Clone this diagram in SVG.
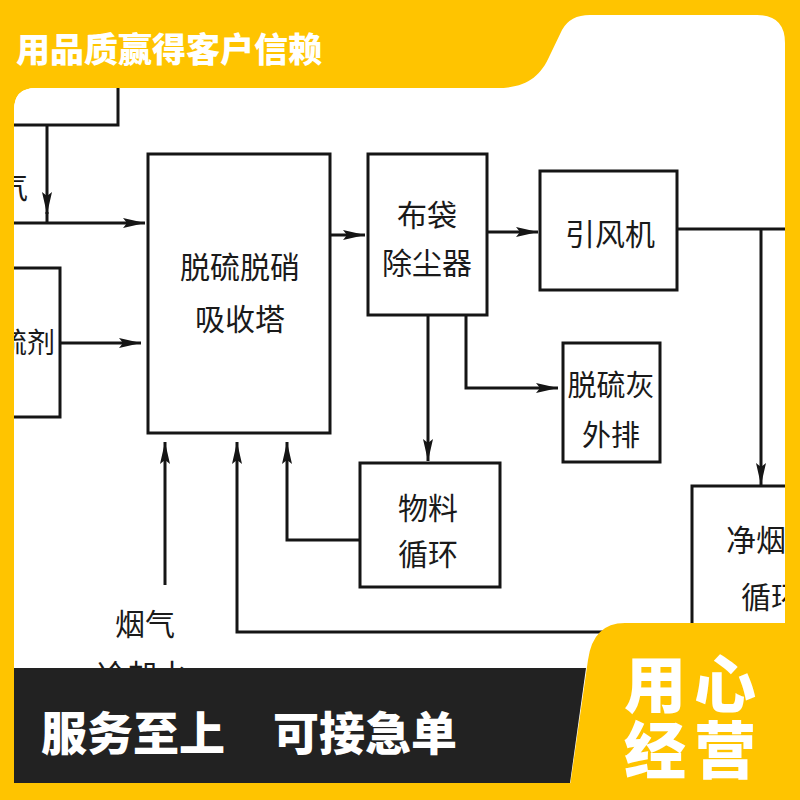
<svg xmlns="http://www.w3.org/2000/svg" width="800" height="800" viewBox="0 0 800 800">
<defs>
<style>
.box{fill:#fff;stroke:#151515;stroke-width:3}
.ln{fill:none;stroke:#151515;stroke-width:3}
.t{font-family:"Noto Sans CJK SC","Noto Sans",sans-serif;font-size:30px;fill:#1a1a1a;text-anchor:middle}
.hw{font-family:"Noto Sans CJK SC","Noto Sans",sans-serif;font-weight:900;fill:#fff}
</style>
<marker id="ah" viewBox="0 0 22 10" refX="22" refY="5" markerWidth="22" markerHeight="10" markerUnits="userSpaceOnUse" orient="auto">
<path d="M0,0 L22,5 L0,10 L4,5 Z" fill="#151515"/>
</marker>
<clipPath id="wc">
<path d="M14,110 Q14,88 36,88 L497,88 C525,88 540,78 550,55 L562,30 Q570,15 590,15 L757,15 Q785,15 785,43 L785,783 L14,783 Z"/>
</clipPath>
</defs>
<rect width="800" height="800" fill="#FFC400"/>
<path d="M14,110 Q14,88 36,88 L497,88 C525,88 540,78 550,55 L562,30 Q570,15 590,15 L757,15 Q785,15 785,43 L785,783 L14,783 Z" fill="#fff"/>
<g clip-path="url(#wc)">
<g id="connectors">
<path class="ln" d="M47,125 V214" marker-end="url(#ah)"/>
<path class="ln" d="M47,212 V223"/>
<path class="ln" d="M14,223 H145" marker-end="url(#ah)"/>
<path class="ln" d="M60,343 H141" marker-end="url(#ah)"/>
<path class="ln" d="M330,235 H365" marker-end="url(#ah)"/>
<path class="ln" d="M487,232 H538" marker-end="url(#ah)"/>
<path class="ln" d="M677,229 H790"/>
<path class="ln" d="M761,229 V485" marker-end="url(#ah)"/>
<path class="ln" d="M428,315 V461" marker-end="url(#ah)"/>
<path class="ln" d="M466,315 V388 H558" marker-end="url(#ah)"/>
<path class="ln" d="M165,585 V442" marker-end="url(#ah)"/>
<path class="ln" d="M720,632 H237 V442" marker-end="url(#ah)"/>
<path class="ln" d="M360,540 H287 V442" marker-end="url(#ah)"/>
</g>
<g id="n-topleft"><rect class="box" x="-20" y="40" width="138" height="85"/></g>
<g id="n-desulfurizer"><rect class="box" x="-20" y="268" width="80" height="149"/><text class="t" x="55" y="353" style="text-anchor:end;font-size:28px">硫剂</text></g>
<g id="n-absorber"><rect class="box" x="148" y="154" width="182" height="279"/><text class="t" x="240" y="278">脱硫脱硝</text><text class="t" x="240" y="330">吸收塔</text></g>
<g id="n-bagfilter"><rect class="box" x="368" y="154" width="119" height="161"/><text class="t" x="427" y="226">布袋</text><text class="t" x="427" y="274">除尘器</text></g>
<g id="n-fan"><rect class="box" x="540" y="171" width="137" height="119"/><text class="t" x="610" y="245">引风机</text></g>
<g id="n-ash"><rect class="box" x="563" y="343" width="97" height="119"/><text class="t" x="611" y="396" style="font-size:29px">脱硫灰</text><text class="t" x="611" y="446" style="font-size:29px">外排</text></g>
<g id="n-material"><rect class="box" x="360" y="463" width="140" height="124"/><text class="t" x="428" y="519">物料</text><text class="t" x="428" y="565">循环</text></g>
<g id="n-cleangas"><rect class="box" x="692" y="486" width="200" height="180"/><text class="t" x="771" y="551">净烟气</text><text class="t" x="771" y="608">循环</text></g>
<g id="n-labels"><text class="t" x="28" y="198" style="text-anchor:end">气</text><text class="t" x="145" y="635">烟气</text><text class="t" x="142" y="686">冷却水</text></g>
</g>
<path d="M14,668 L586,668 L570,783 L14,783 Z" fill="#222"/>
<path d="M625,623 L800,623 L800,800 L568,800 L588,660 Q593,623 625,623 Z" fill="#FFC400"/>
<text class="hw" x="16" y="62" font-size="34">用品质赢得客户信赖</text>
<text class="hw" x="41" y="750" font-size="46">服务至上</text>
<text class="hw" x="273" y="750" font-size="46">可接急单</text>
<text class="hw" x="624" y="708" font-size="62" letter-spacing="8">用心</text>
<text class="hw" x="624" y="774" font-size="62" letter-spacing="8">经营</text>
</svg>
